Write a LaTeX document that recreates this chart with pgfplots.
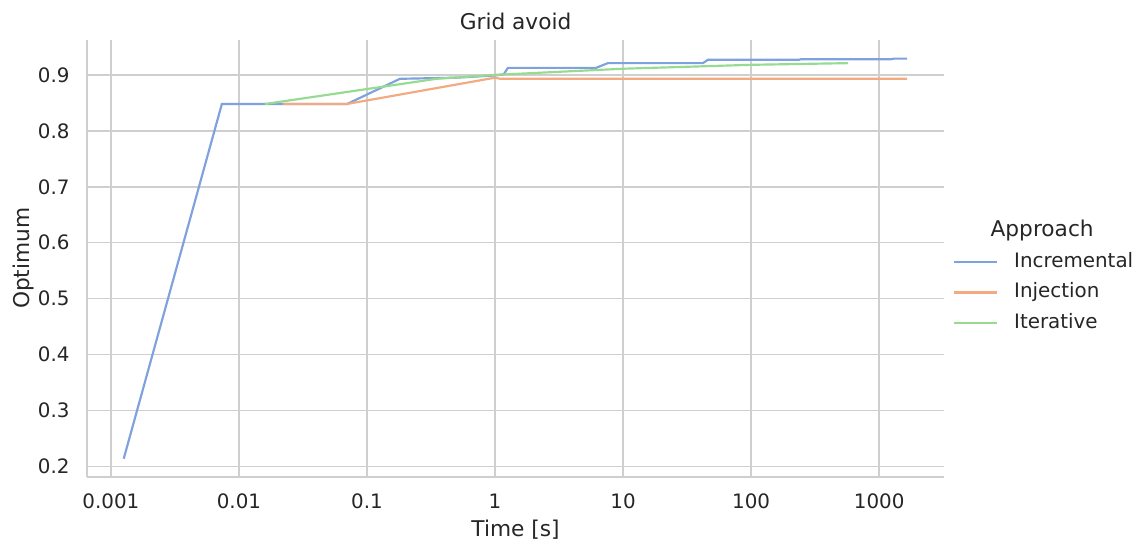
\documentclass[border=0pt]{standalone}
\usepackage{pgfplots}
\pgfplotsset{compat=1.18}
\usepackage{fontspec}
\setmainfont{DejaVu Sans}
\definecolor{txt}{HTML}{262626}
\definecolor{gridc}{HTML}{CFCFCF}
\definecolor{cblue}{RGB}{127,161,222}
\definecolor{corange}{RGB}{243,170,128}
\definecolor{cgreen}{RGB}{151,219,147}
\begin{document}
\begin{tikzpicture}
\useasboundingbox (-48.1pt,-35.4pt) rectangle (583.4pt,263.8pt);
\begin{axis}[
  at={(0,0)}, anchor=south west,
  width=474.5pt, height=241.7pt, scale only axis,
  xmode=log,
  xmin=0.000650, xmax=3221,
  ymin=0.182, ymax=0.9625,
  axis x line*=bottom, axis y line*=left,
  axis line style={draw=gridc, line width=1pt},
  major tick length=0pt, minor tick length=0pt,
  xminorticks=false, yminorticks=false,
  grid=major,
  major grid style={draw=gridc, line width=0.8pt},
  xtick={0.001,0.01,0.1,1,10,100,1000},
  xticklabels={0.001,0.01,0.1,1,10,100,1000},
  ytick={0.2,0.3,0.4,0.5,0.6,0.7,0.8,0.9},
  yticklabels={0.2,0.3,0.4,0.5,0.6,0.7,0.8,0.9},
  xticklabel style={font=\fontsize{11}{13}\selectfont, text=txt, anchor=north, inner sep=0pt, yshift=-9.4pt},
  yticklabel style={font=\fontsize{11}{13}\selectfont, text=txt, anchor=east, inner sep=0pt, xshift=-9.4pt},
  xlabel={Time [s]},
  ylabel={Optimum},
  xlabel style={font=\fontsize{12}{14}\selectfont, text=txt, at={(axis description cs:0.5,-0.1213)}, anchor=center},
  ylabel style={font=\fontsize{12}{14}\selectfont, text=txt, at={(axis description cs:-0.0745,0.5)}, anchor=center},
  title={Grid avoid},
  title style={font=\fontsize{12}{14}\selectfont, text=txt, at={(axis description cs:0.5,1)}, anchor=base, yshift=-0.5pt},
  clip=false,
  legend cell align=left,
  legend image code/.code={\draw[#1, line width=1.4pt] (0pt,0pt) -- (24pt,0pt); \path (32.8pt,0pt);},
  legend style={at={(axis description cs:1.0093,0.422)}, anchor=west, draw=none, fill=none, inner sep=0pt,
    font=\fontsize{11}{13}\selectfont, text=txt, row sep=5.9pt,
    nodes={inner sep=0pt, text height=8.5pt, text depth=2.5pt}},
]
\addplot[cblue, line width=1.2pt] coordinates {
(0.00126,0.214) (0.00736,0.848) (0.070,0.848) (0.181,0.893) (0.5,0.895) (1.0,0.899)
(1.17,0.901) (1.26,0.9125) (6.15,0.9125) (7.6,0.921) (42,0.921) (46,0.927)
(237,0.927) (245,0.928) (1240,0.928) (1300,0.929) (1650,0.929)};
\addlegendentry{Incremental}
\addplot[corange, line width=1.2pt] coordinates {
(0.0221,0.848) (0.0698,0.848) (1.0,0.895) (1.1,0.893) (1650,0.893)};
\addlegendentry{Injection}
\addplot[cgreen, line width=1.2pt] coordinates {
(0.016,0.848) (0.35,0.893) (1.0,0.900) (10,0.911) (100,0.918) (573,0.921)};
\addlegendentry{Iterative}
\node[font=\fontsize{12}{14}\selectfont, text=txt, anchor=base, inner sep=0pt] at (axis description cs:1.1142,0.5492) {Approach};
\end{axis}
\end{tikzpicture}
\end{document}
